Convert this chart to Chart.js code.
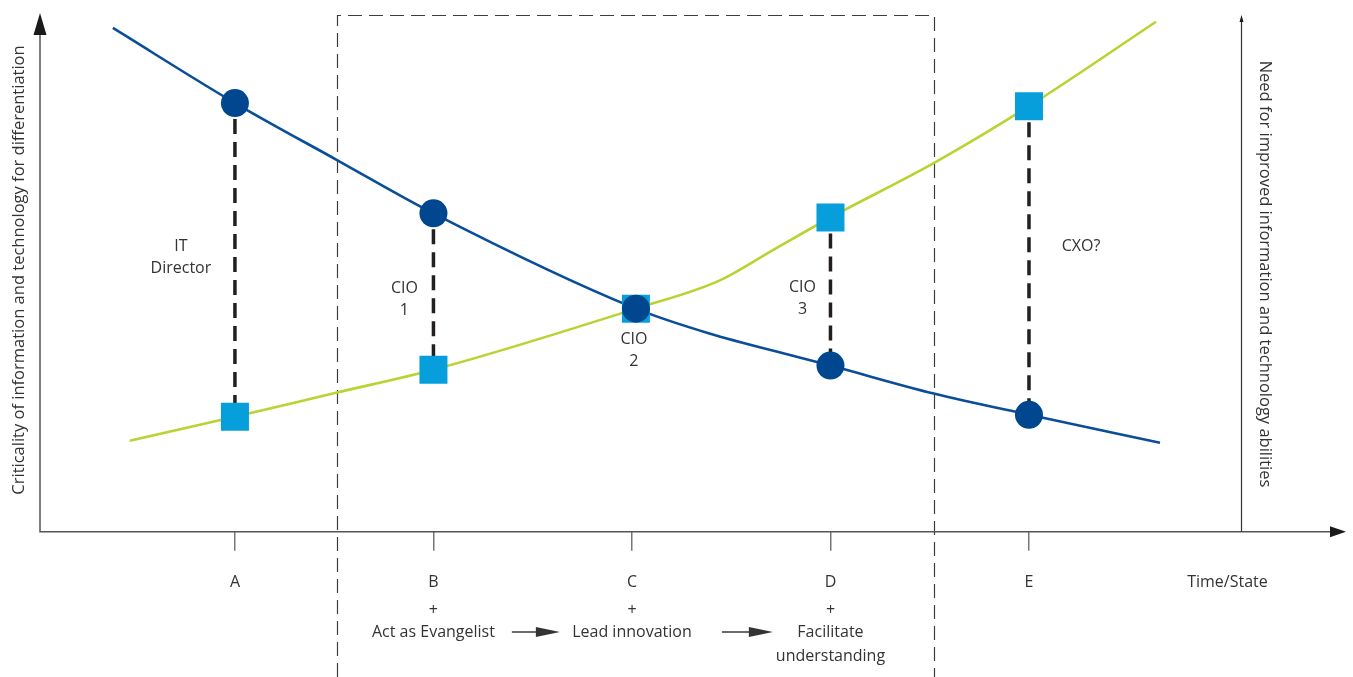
<!DOCTYPE html>
<html>
<head>
<meta charset="utf-8">
<script src="https://cdn.jsdelivr.net/npm/chart.js@4/dist/chart.umd.min.js"></script>
<style>
  html, body { margin: 0; padding: 0; background: #fff; }
  canvas { display: block; }
</style>
</head>
<body>
<canvas id="c" width="1353" height="677"></canvas>
<script>
// Stages along the time/state axis
const stages = ['A', 'B', 'C', 'D', 'E'];
const stageX = [1, 2, 3.02, 4, 5];

// Marker values at each stage
const criticality = [82.8, 61.5, 43.1, 32.1, 22.6];   // dark blue circles
const abilityNeed = [22.2, 31.3, 43.1, 60.7, 82.2];   // cyan squares

// Curves running through the stages
const criticalityCurveX = [0.385, 1, 1.514, 2, 3.02, 3.39, 3.81, 4, 4.52, 5, 5.66];
const criticalityCurveY = [97.3, 82.8, 71.8, 61.5, 43.1, 38.3, 34.0, 32.1, 26.7, 22.6, 17.2];
const abilityCurveX = [0.47, 1, 1.514, 2, 3.02, 3.44, 3.71, 4, 4.52, 5, 5.64];
const abilityCurveY = [17.6, 22.2, 26.9, 31.3, 43.1, 48.5, 54.4, 60.7, 71.2, 82.2, 98.5];

// Axis ticks
const tickValues = [1, 2, 3, 4, 5, 6];
const tickLabels = ['A', 'B', 'C', 'D', 'E', 'Time/State'];

// Texts
const roleLabels = [['IT', 'Director'], ['CIO', '1'], ['CIO', '2'], ['CIO', '3'], ['CXO?']];
const actionLabels = [null, ['Act as Evangelist'], ['Lead innovation'], ['Facilitate', 'understanding'], null];
const yTitle = 'Criticality of information and technology for differentiation';
const y2Title = 'Need for improved information and technology abilities';

// Transition window boundaries (x units)
const windowX = [1.514, 4.52];

const FONT = '"Open Sans", "DejaVu Sans", sans-serif';
const TEXT = '#333333';
const BLUE = '#0a4e9a';
const BLUE_DOT = '#00478f';
const GREEN = '#b8d432';
const CYAN = '#069fdb';

const toPts = (xs, ys) => xs.map((x, i) => ({ x, y: ys[i] }));

const decor = {
  id: 'decor',
  beforeDatasetsDraw(chart) {
    const { ctx, scales: { x, y } } = chart;
    ctx.save();
    // dashed transition window
    ctx.strokeStyle = '#3d3d3d';
    ctx.lineWidth = 1.2;
    ctx.setLineDash([14, 7]);
    const l = Math.round(x.getPixelForValue(windowX[0])) + 0.5;
    const r = Math.round(x.getPixelForValue(windowX[1])) + 0.5;
    const t = 15.5;
    ctx.beginPath();
    ctx.moveTo(l, chart.height);
    ctx.lineTo(l, t);
    ctx.lineTo(r, t);
    ctx.lineTo(r, chart.height);
    ctx.stroke();

    // connectors between the two markers at each stage
    ctx.strokeStyle = '#231f20';
    ctx.lineWidth = 3.5;
    ctx.setLineDash([15, 8]);
    stageX.forEach((sx, i) => {
      if (i === 2) return;
      const px = x.getPixelForValue(sx);
      const top = Math.max(criticality[i], abilityNeed[i]);
      const bot = Math.min(criticality[i], abilityNeed[i]);
      ctx.beginPath();
      ctx.moveTo(px, y.getPixelForValue(top) + 16);
      ctx.lineTo(px, y.getPixelForValue(bot));
      ctx.stroke();
    });
    ctx.restore();
  },
  afterDraw(chart) {
    const { ctx, scales: { x, y }, chartArea } = chart;
    const ax = chartArea.left, ay = chartArea.bottom;
    const tipX = x.getPixelForValue(6.597);
    ctx.save();
    // main axes
    ctx.strokeStyle = '#555555';
    ctx.lineWidth = 1.5;
    ctx.beginPath();
    ctx.moveTo(ax, 30);
    ctx.lineTo(ax, ay);
    ctx.lineTo(tipX - 12, ay);
    ctx.stroke();
    ctx.fillStyle = '#1a1a1a';
    ctx.beginPath();
    ctx.moveTo(ax, 13);
    ctx.lineTo(ax + 6.5, 35);
    ctx.lineTo(ax - 6.5, 35);
    ctx.closePath();
    ctx.fill();
    ctx.beginPath();
    ctx.moveTo(tipX, ay);
    ctx.lineTo(tipX - 16, ay - 5.5);
    ctx.lineTo(tipX - 16, ay + 5.5);
    ctx.closePath();
    ctx.fill();

    // secondary axis
    const rx = Math.round(x.getPixelForValue(6.07)) + 0.5;
    ctx.strokeStyle = '#333333';
    ctx.lineWidth = 1.2;
    ctx.beginPath();
    ctx.moveTo(rx, ay);
    ctx.lineTo(rx, 20);
    ctx.stroke();
    ctx.beginPath();
    ctx.moveTo(rx, 15);
    ctx.lineTo(rx + 2, 22);
    ctx.lineTo(rx - 2, 22);
    ctx.closePath();
    ctx.fill();

    // axis titles
    ctx.fillStyle = TEXT;
    ctx.textAlign = 'center';
    ctx.textBaseline = 'middle';
    ctx.font = '16.5px ' + FONT;
    ctx.save();
    ctx.translate(19, 270);
    ctx.rotate(-Math.PI / 2);
    ctx.fillText(yTitle, 0, 0);
    ctx.restore();
    ctx.save();
    ctx.translate(rx + 23, 274);
    ctx.rotate(Math.PI / 2);
    ctx.fillText(y2Title, 0, 0);
    ctx.restore();

    // role labels beside the connectors
    ctx.font = '16px ' + FONT;
    const roleOffsets = [[-54, 53], [-29, 44.9], [-2, 35], [-28, 45], [52, 55.1]];
    roleLabels.forEach((lines, i) => {
      const px = x.getPixelForValue(stageX[i]) + roleOffsets[i][0];
      const py = y.getPixelForValue(roleOffsets[i][1]);
      const lh = 22;
      lines.forEach((s, k) => {
        ctx.fillText(s, px, py + (k - (lines.length - 1) / 2) * lh);
      });
    });

    // actions under the stage ticks
    actionLabels.forEach((lines, i) => {
      if (!lines) return;
      const px = x.getPixelForValue(Math.round(stageX[i]));
      ctx.fillText('+', px, 610);
      lines.forEach((s, k) => ctx.fillText(s, px, 632 + k * 24));
    });

    // flow arrows between actions
    const arrows = [[2.395, 2.637], [3.453, 3.71]];
    ctx.strokeStyle = '#1a1a1a';
    ctx.lineWidth = 1.3;
    arrows.forEach(([a, b]) => {
      const x0 = x.getPixelForValue(a), x1 = x.getPixelForValue(b), yy = 632;
      ctx.beginPath();
      ctx.moveTo(x0, yy);
      ctx.lineTo(x1 - 20, yy);
      ctx.stroke();
      ctx.beginPath();
      ctx.moveTo(x1, yy);
      ctx.lineTo(x1 - 24, yy - 5);
      ctx.lineTo(x1 - 24, yy + 5);
      ctx.closePath();
      ctx.fill();
    });
    ctx.restore();
  }
};

Chart.defaults.font.family = FONT;

new Chart(document.getElementById('c'), {
  type: 'scatter',
  data: {
    datasets: [
      {
        label: 'Criticality',
        data: toPts(stageX, criticality),
        pointStyle: 'circle',
        pointRadius: 14,
        backgroundColor: BLUE_DOT,
        borderWidth: 0,
        showLine: false
      },
      {
        label: 'Need',
        data: toPts(stageX, abilityNeed),
        pointStyle: 'rect',
        pointRadius: 19.8,
        backgroundColor: CYAN,
        borderWidth: 0,
        showLine: false
      },
      {
        label: 'Criticality curve',
        data: toPts(criticalityCurveX, criticalityCurveY),
        showLine: true,
        pointRadius: 0,
        borderColor: BLUE,
        borderWidth: 2.6,
        cubicInterpolationMode: 'monotone',
        fill: false
      },
      {
        label: 'Need curve',
        data: toPts(abilityCurveX, abilityCurveY),
        showLine: true,
        pointRadius: 0,
        borderColor: GREEN,
        borderWidth: 2.6,
        cubicInterpolationMode: 'monotone',
        fill: false
      }
    ]
  },
  options: {
    responsive: false,
    animation: false,
    events: [],
    layout: { autoPadding: false, padding: { left: 40, top: 14, right: 7, bottom: 63 } },
    plugins: { legend: { display: false }, tooltip: { enabled: false } },
    scales: {
      x: {
        type: 'linear',
        min: 0.018,
        max: 6.597,
        afterBuildTicks: s => { s.ticks = tickValues.map(v => ({ value: v })); },
        ticks: {
          autoSkip: false,
          maxRotation: 0,
          padding: 22,
          color: TEXT,
          font: { size: 16, family: FONT },
          callback: (v, i) => tickLabels[i]
        },
        grid: {
          drawOnChartArea: false,
          drawTicks: true,
          tickLength: 19,
          lineWidth: 1.5,
          tickColor: c => (c.index === 5 ? 'rgba(0,0,0,0)' : '#777777')
        },
        border: { display: false }
      },
      y: { display: false, min: 0, max: 100 }
    }
  },
  plugins: [decor]
});
</script>
</body>
</html>
